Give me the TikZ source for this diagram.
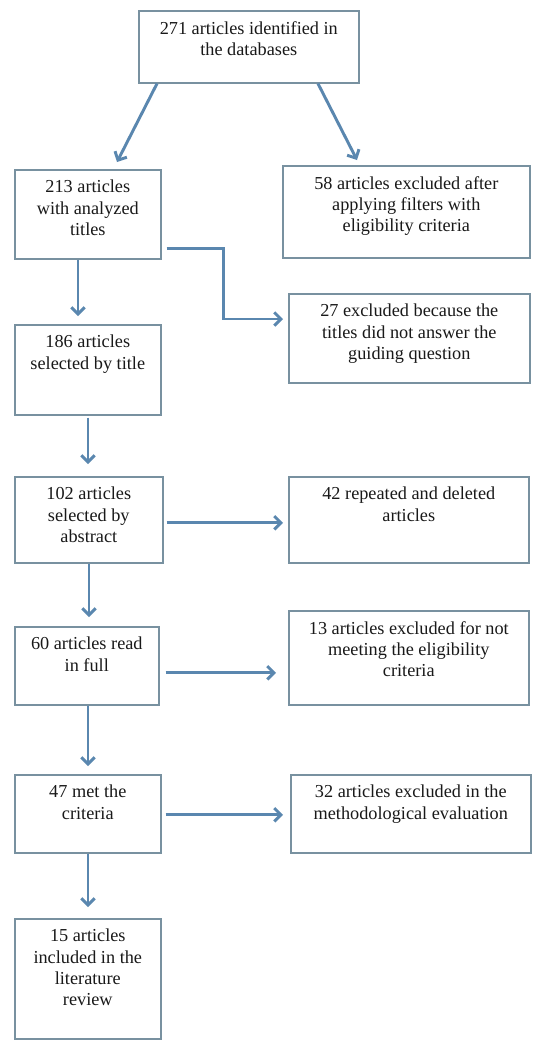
\documentclass[tikz,border=0pt]{standalone}
\usepackage{fontspec}
\setmainfont{Liberation Serif}
\usetikzlibrary{arrows.meta,calc}
\definecolor{boxc}{RGB}{120,145,160}
\definecolor{arrc}{RGB}{90,135,175}
\definecolor{txtc}{RGB}{25,25,25}
\newcommand\mybox[6]{\node[box, minimum width={(#4-#2)*0.75pt}, minimum height={(#5-#3)*0.75pt}, label={[lbl]north:#6}] (#1) at (#2,#3) {};}
\begin{document}
\begin{tikzpicture}[x=0.75pt,y=-0.75pt,
  box/.style={draw=boxc, line width=1.2pt, fill=white, inner sep=0pt, anchor=north west},
  lbl/.style={anchor=north, yshift=-8.25pt, inner sep=0pt, align=center, text=txtc, font=\fontsize{13.7}{16}\selectfont},
  arr/.style={draw=arrc, line width=2.2pt, -{Straight Barb[length=5pt,width=10pt]}}]
\useasboundingbox[fill=white] (0,0) rectangle (542,1040);
\mybox{top}{138}{10}{358}{82}{271 articles identified in\\the databases}
\mybox{b213}{14}{169}{160}{258}{213 articles\\with analyzed\\titles}
\mybox{b58}{282}{165}{529}{257}{58 articles excluded after\\applying filters with\\eligibility criteria}
\mybox{b27}{288}{293}{529}{382}{27 excluded because the\\titles did not answer the\\guiding question}
\mybox{b186}{14}{324}{160}{414}{186 articles\\selected by title}
\mybox{b102}{14}{476}{162}{562}{102 articles\\selected by\\abstract}
\mybox{b42}{288}{476}{528}{562}{42 repeated and deleted\\articles}
\mybox{b60}{14}{626}{158}{704}{60 articles read\\in full}
\mybox{b13}{288}{610}{528}{704}{13 articles excluded for not\\meeting the eligibility\\criteria}
\mybox{b47}{14}{774}{160}{852}{47 met the\\criteria}
\mybox{b32}{290}{774}{530}{852}{32 articles excluded in the\\methodological evaluation}
\mybox{b15}{14}{918}{160}{1038}{15 articles\\included in the\\literature\\review}
\draw[arr] ($(top.south west)+(19,0)$) -- ($(b213.north west)+(103,-7)$);
\draw[arr] ($(top.south west)+(180,0)$) -- ($(b58.north west)+(75,-5)$);
\draw[arr] ($(b213.south west)+(64,0)$) -- ($(b186.north west)+(64,-8)$);
\draw[arr] ($(b213.south east)+(5,-11)$) -- ++(57,0) |- ($(b27.north west)+(-5,26)$);
\draw[arr] ($(b186.south west)+(74,2)$) -- ($(b102.north west)+(74,-12)$);
\draw[arr] ($(b102.east)+(3,3)$) -- ($(b42.west)+(-5,3)$);
\draw[arr] ($(b102.south west)+(75,0)$) -- ($(b60.north west)+(75,-9)$);
\draw[arr] ($(b60.east)+(6,7)$) -- ($(b13.west)+(-12,15)$);
\draw[arr] ($(b60.south west)+(74,0)$) -- ($(b47.north west)+(74,-8)$);
\draw[arr] ($(b47.east)+(4,1)$) -- ($(b32.west)+(-7,1)$);
\draw[arr] ($(b47.south west)+(74,0)$) -- ($(b15.north west)+(74,-11)$);
\end{tikzpicture}
\end{document}
